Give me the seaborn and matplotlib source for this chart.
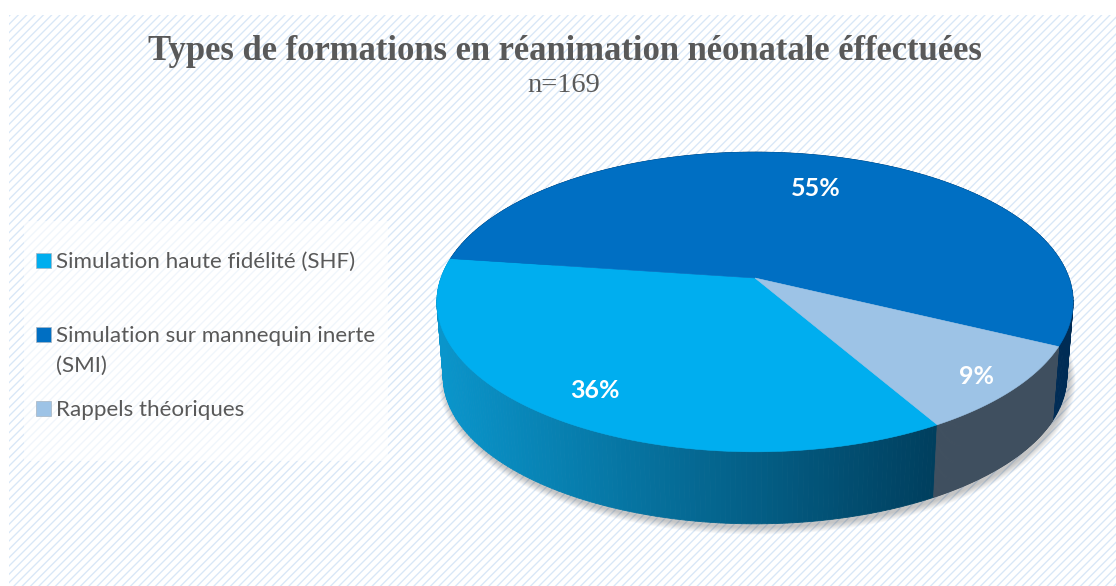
import numpy as np
import matplotlib
matplotlib.use("Agg")
import matplotlib.pyplot as plt
from matplotlib.patches import Rectangle
from matplotlib.colors import to_rgb
import seaborn as sns

sns.set_theme(style="white")
plt.rcParams['hatch.linewidth'] = 0.95

# Chart values: counts out of n=169, they round to the printed 36 / 55 / 9 %
categories = ["Simulation haute fidélité (SHF)",
              "Simulation sur mannequin inerte\n(SMI)",
              "Rappels théoriques"]
counts = [60, 93, 16]
n_total = 169
colors = ["#00AEEF", "#006FC3", "#9DC3E6"]
side_colors = [("#0A95CB", "#003F5E"), ("#002C55", "#002C55"), ("#3F4F5F", "#3F4F5F")]

# Pie geometry in image pixels
start_angle = 300
apex_x, apex_y = 755, 278
scale_x, scale_y, persp = 314, 146, 0.16
depth_y, depth_scale = 75.5, 0.98


def project(theta, bottom=False):
    # circle in perspective, so the apex sits above the middle of the ellipse
    u, v = np.cos(np.radians(theta)), np.sin(np.radians(theta))
    w = 1 + persp * v
    k = depth_scale if bottom else 1.0
    off = depth_y if bottom else 0.0
    return apex_x + k * scale_x * u / w, apex_y + off - k * scale_y * v / w


fig = plt.figure(figsize=(11.16, 5.86), dpi=100)
ax = fig.add_axes([0, 0, 1, 1])
ax.set_xlim(0, 1116)
ax.set_ylim(586, 0)
ax.axis("off")

# Hatched background and the paler box behind the legend
ax.add_patch(Rectangle((9, 15), 1107, 571, facecolor="white", edgecolor="#D8E7F7",
                       hatch="////", linewidth=0, zorder=0))
ax.add_patch(Rectangle((24, 221), 364, 240, facecolor="white", edgecolor="none",
                       alpha=0.62, zorder=1))

# Slice boundaries, clockwise from the start angle
fractions = np.array(counts) / sum(counts)
edges = start_angle - np.concatenate([[0], np.cumsum(fractions)]) * 360

# Soft shadow under the pie
ring = np.linspace(0, 360, 240)
for grow in np.arange(1, 11):
    sx, sy = project(ring, bottom=True)
    sx = apex_x + (sx - apex_x) * (1 + grow * 0.0022) + 2
    sy = apex_y + depth_y + (sy - apex_y - depth_y) * (1 + grow * 0.0045) + 3
    ax.fill(sx, sy, color="black", alpha=0.025, linewidth=0, zorder=2)

# Side wall, cut in narrow strips so the shading can change along it
for i in range(len(counts)):
    left, right = [np.array(to_rgb(c)) for c in side_colors[i]]
    steps = np.linspace(edges[i], edges[i + 1], 160)
    for a, b in zip(steps[:-1], steps[1:]):
        th = np.array([a, b])
        x1, y1 = project(th)
        x2, y2 = project(th, bottom=True)
        t = np.clip((x1.mean() - 440) / (935 - 440), 0, 1) if i == 0 else 0
        strip = left + (right - left) * t
        ax.fill(np.r_[x1, x2[::-1]], np.r_[y1, y2[::-1]], color=strip,
                linewidth=0.6, zorder=3)

# Top face of each slice
for i, c in enumerate(colors):
    th = np.linspace(edges[i], edges[i + 1], 200)
    x, y = project(th)
    ax.fill(np.r_[apex_x, x], np.r_[apex_y, y], color=c, linewidth=0.4, zorder=4)

# Percent labels
label_pos = [(595, 391), (816, 188), (976, 376)]
for v, (lx, ly) in zip(counts, label_pos):
    ax.text(lx, ly, f"{v / n_total:.0%}", color="white", fontsize=18, fontweight="bold",
            family="Lato", ha="center", va="center", zorder=5)

# Title
ax.text(565, 52, "Types de formations en réanimation néonatale éffectuées", color="#595959",
        fontsize=24.9, fontweight="bold", family="Liberation Serif", ha="center", va="center", zorder=5)
ax.text(564, 85, f"n={n_total}", color="#595959", fontsize=20.5, family="Liberation Serif",
        ha="center", va="center", zorder=5)

# Legend, with the uneven row spacing of the original
legend_top = [251.5, 325.5, 399.5]
for name, c, top in zip(categories, colors, legend_top):
    ax.add_patch(Rectangle((36, top + 1.5), 15, 15, facecolor=c, edgecolor="#A6B4C2",
                           linewidth=0.5, zorder=5))
    ax.text(56, top, name, color="#595959", fontsize=16.1, family="Lato", ha="left", va="top",
            zorder=5, linespacing=1.62)

fig.savefig("out.png", dpi=100)
